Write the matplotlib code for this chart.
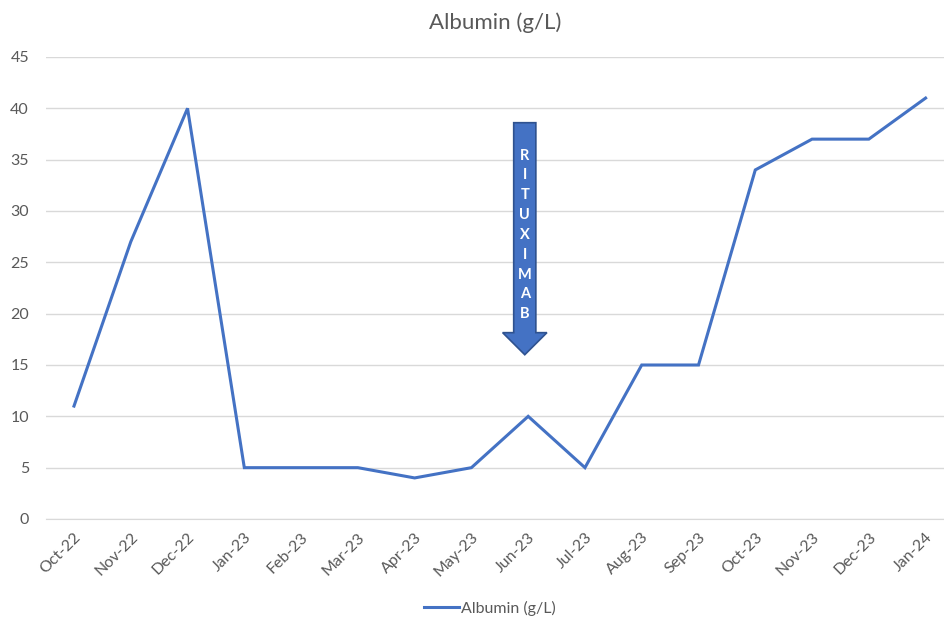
import matplotlib
matplotlib.use("Agg")
import matplotlib.pyplot as plt
from matplotlib.patches import FancyArrow

months = ["Oct-22", "Nov-22", "Dec-22", "Jan-23", "Feb-23", "Mar-23", "Apr-23", "May-23",
          "Jun-23", "Jul-23", "Aug-23", "Sep-23", "Oct-23", "Nov-23", "Dec-23", "Jan-24"]
albumin = [11, 27, 40, 5, 5, 5, 4, 5, 10, 5, 15, 15, 34, 37, 37, 41]
yticks = [0, 5, 10, 15, 20, 25, 30, 35, 40, 45]
arrow_label = "RITUXIMAB"
arrow_month = "Jun-23"

plt.rcParams['font.family'] = ['Lato', 'DejaVu Sans']
TXT = "#595959"
BLUE = "#4472C4"

fig = plt.figure(figsize=(9.45, 6.26), dpi=100)
ax = fig.add_axes([45.6 / 945, 107 / 626, (945 - 45.6) / 945, 462 / 626])

x = list(range(len(months)))
line, = ax.plot(x, albumin, color=BLUE, lw=2.2, label="Albumin (g/L)", solid_joinstyle="miter")

ax.set_xlim(-0.5, len(months) - 0.5 - (954 - 945) / 56.8)
ax.set_ylim(0, 45)
ax.set_yticks(yticks)
ax.set_xticks(x)
ax.set_xticklabels(months, rotation=45, ha="right", rotation_mode="anchor")
ax.tick_params(axis="both", length=0, colors=TXT, labelsize=11.5)
ax.tick_params(axis="x", pad=8)
ax.tick_params(axis="y", pad=12)
ax.grid(axis="y", color="#D9D9D9", lw=1)
ax.set_axisbelow(True)
for s in ["top", "right", "left"]:
    ax.spines[s].set_visible(False)
ax.spines["bottom"].set_color("#D9D9D9")

ax.set_title("Albumin (g/L)", color=TXT, fontsize=16, pad=20)

# Rituximab arrow
xi = months.index(arrow_month)
xa = xi - 0.06
y_top, y_tip = 38.6, 16.0
head_len = 2.15
arr = FancyArrow(xa, y_top, 0, y_tip - y_top, width=0.39, head_width=0.78,
                 head_length=head_len, length_includes_head=True,
                 facecolor=BLUE, edgecolor="#2F528F", lw=1.2, zorder=5)
ax.add_patch(arr)
ax.text(xa, (y_top + y_tip + head_len) / 2 - 0.7, "\n".join(arrow_label), color="white",
        ha="center", va="center", fontsize=10.5, fontweight="bold", linespacing=1.53, zorder=6)

leg = fig.legend(handles=[line], loc="center", bbox_to_anchor=(490 / 945, 1 - 608 / 626),
                 frameon=False, fontsize=11.5, handlelength=2.2, handletextpad=0.1)
for t in leg.get_texts():
    t.set_color(TXT)

fig.savefig("out.png", dpi=100)
